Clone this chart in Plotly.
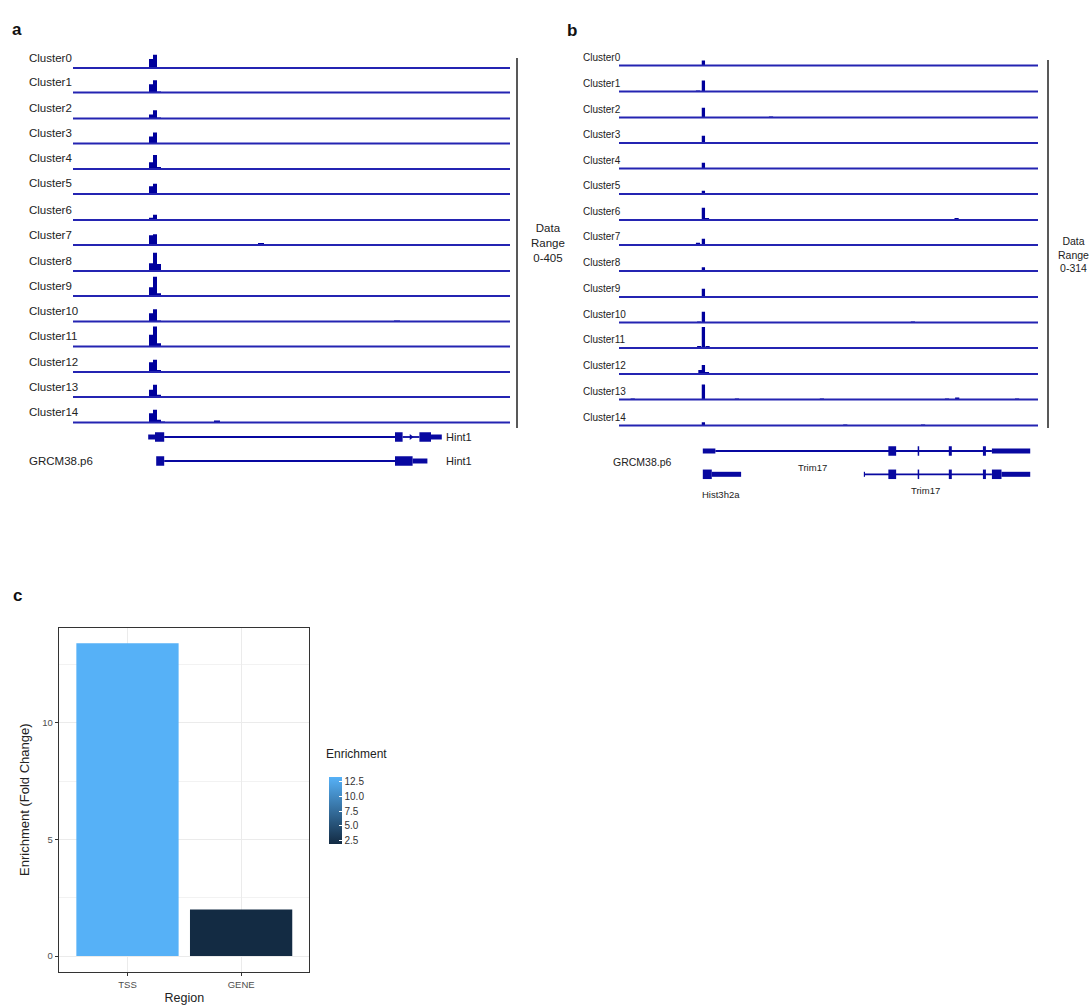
import plotly.graph_objects as go

FIG_W, FIG_H = 1091, 1005


def px_x(p):
    return p / FIG_W


def px_y(p):
    return 1 - p / FIG_H


CLUSTERS = [f"Cluster{i}" for i in range(15)]

# ---------------- panel a : Hint1 locus (positions in kb from region start) ----------------
A_REGION_KB = 10.925
A_DATA_MAX = 405
A_PEAK_BINS_KB = [1.95, 2.05, 2.15, 2.25]
A_PEAK_VALUES = [
    [182, 270, 20, 0],
    [168, 249, 14, 0],
    [81, 168, 10, 0],
    [142, 223, 0, 0],
    [136, 284, 26, 0],
    [156, 209, 10, 0],
    [47, 107, 6, 0],
    [196, 217, 0, 0],
    [156, 371, 142, 0],
    [176, 391, 55, 0],
    [168, 249, 10, 0],
    [237, 405, 67, 0],
    [196, 249, 34, 0],
    [148, 249, 47, 12],
    [188, 257, 55, 14],
]
A_SMALL_PEAKS_KB = [[], [], [], [], [], [3.8], [5.6, 7.8, 10.4], [4.1, 4.7, 8.5, 8.75, 9.05],
                    [], [3.35, 8.75], [8.1], [], [], [5.8, 8.25], [3.6]]
A_SMALL_PEAKS_VAL = [[], [], [], [], [], [15], [12, 14, 12], [16, 26, 12, 14, 12],
                     [], [12, 20], [8], [], [], [20, 15], [30]]

# gene models, panel a: row, start kb, end kb, feature kind
A_GENE_ROW = [1, 1, 1, 1, 1, 1, 1, 2, 2, 2, 2]
A_GENE_START = [2.28, 8.24, 1.88, 2.05, 8.05, 8.66, 8.95, 2.28, 2.08, 8.05, 8.49]
A_GENE_END = [8.05, 8.66, 2.05, 2.28, 8.24, 8.95, 9.22, 8.05, 2.28, 8.49, 8.86]
A_GENE_KIND = ["intron", "intron", "utr", "cds", "cds", "cds", "utr", "intron", "cds", "cds", "utr"]
A_STRAND_ARROW_KB = [8.45]
A_GENE_NAMES = ["Hint1", "Hint1"]

# ---------------- panel b : Trim17 / Hist3h2a locus ----------------
B_REGION_KB = 7.0
B_DATA_MAX = 314
B_PEAK_KB = 1.41
B_PEAK_VALUES = [75, 164, 145, 109, 85, 49, 184, 94, 55, 124, 160, 314, 135, 224, 49]
B_SMALL_PEAKS_KB = [[], [1.32], [2.54], [], [], [], [1.47, 1.63, 1.82, 2.59, 2.79, 4.06, 5.64],
                    [1.32, 2.07, 2.47, 4.06], [], [5.13], [1.34, 4.91], [1.34, 1.48, 2.42, 2.55],
                    [1.36, 1.47, 5.38, 5.87], [0.23, 1.97, 3.39, 5.48, 5.65, 6.65], [3.78, 5.08]]
B_SMALL_PEAKS_VAL = [[], [15], [14], [], [], [], [16, 10, 10, 15, 12, 10, 28],
                     [32, 14, 10, 10], [], [12], [14, 8], [22, 28, 10, 10],
                     [60, 25, 10, 12], [10, 8, 12, 10, 16, 8], [10, 8]]

B_GENE_ROW = [1, 1, 1, 1, 1, 1, 1, 2, 2, 2, 2, 2, 2, 2, 2, 2, 2]
B_GENE_START = [1.61, 1.40, 4.50, 4.99, 5.51, 6.08, 6.23, 1.40, 1.55, 4.10, 4.09, 4.50, 4.99, 5.51, 6.08, 6.23, 6.39]
B_GENE_END = [6.23, 1.61, 4.63, 5.015, 5.56, 6.13, 6.87, 1.55, 2.04, 6.23, 4.11, 4.63, 5.015, 5.56, 6.13, 6.39, 6.87]
B_GENE_KIND = ["intron", "utr", "cds", "cds", "cds", "cds", "utr", "cds", "utr", "intron", "utr",
               "cds", "cds", "cds", "cds", "cds", "utr"]
B_GENE_LABELS = ["Trim17", "Hist3h2a", "Trim17"]
B_GENE_LABEL_KB = [3.24, 1.71, 5.12]

# ---------------- panel c : enrichment bar chart ----------------
REGIONS = ["TSS", "GENE"]
ENRICHMENT = [13.4, 2.0]

# ---------------- styling / layout constants ----------------
A_X0, A_X1 = 73, 510
B_X0, B_X1 = 619, 1038
A_BASE_PX = [68, 92.5, 118.5, 143.5, 169, 194, 220, 245, 271, 296, 321.5, 346.5, 372, 397, 422.5]
B_BASE_PX = [65.5, 91.5, 117.5, 143, 168.5, 194, 220, 245, 271, 297, 322.5, 348, 374, 399.5, 425.5]
A_TRACK_PX = 20
B_TRACK_PX = 21
LINE_COL = "#2424b2"
BAR_COL = "#00009c"
GENE_COL = "#0808a0"
KIND_WIDTH = {"intron": 1.8, "utr": 5, "cds": 9.5}
LABEL_FONT = "Liberation Sans, Arial, sans-serif"

fig = go.Figure()
layout = {}
annotations = []
shapes = []


def yname(n):
    return "y" if n == 1 else f"y{n}"


def ykey(n):
    return "yaxis" if n == 1 else f"yaxis{n}"


def add_tracks(first_axis, xref, base_px, track_px, data_max, region_kb, peak_x, peak_w, peak_vals,
               small_x, small_v, small_w):
    for i in range(15):
        n = first_axis + i
        pad = 1.6
        units_per_px = data_max / track_px
        layout[ykey(n)] = dict(
            domain=[px_y(base_px[i] + pad), px_y(base_px[i] - track_px - 1)],
            range=[-pad * units_per_px, (track_px + 1) * units_per_px],
            anchor=xref, visible=False, fixedrange=True,
        )
        # baseline
        fig.add_trace(go.Scatter(x=[0, region_kb], y=[0, 0], mode="lines",
                                 line=dict(color=LINE_COL, width=2), xaxis=xref, yaxis=yname(n),
                                 showlegend=False, hoverinfo="skip"))
        xs = list(peak_x[i]) + list(small_x[i])
        ys = list(peak_vals[i]) + list(small_v[i])
        ws = [peak_w] * len(peak_x[i]) + [small_w] * len(small_x[i])
        fig.add_trace(go.Bar(x=xs, y=ys, width=ws, marker=dict(color=BAR_COL, line=dict(width=0)),
                             xaxis=xref, yaxis=yname(n), showlegend=False, name=CLUSTERS[i]))


# panel a tracks: axes y1..y15, x
add_tracks(1, "x", A_BASE_PX, A_TRACK_PX, A_DATA_MAX, A_REGION_KB,
           [A_PEAK_BINS_KB] * 15, 0.1, A_PEAK_VALUES, A_SMALL_PEAKS_KB, A_SMALL_PEAKS_VAL, 0.15)
# panel b tracks: axes y17..y31, x2
add_tracks(17, "x2", B_BASE_PX, B_TRACK_PX, B_DATA_MAX, B_REGION_KB,
           [[B_PEAK_KB]] * 15, 0.055, [[v] for v in B_PEAK_VALUES], B_SMALL_PEAKS_KB, B_SMALL_PEAKS_VAL, 0.07)

layout["xaxis"] = dict(domain=[px_x(A_X0), px_x(A_X1)], range=[0, A_REGION_KB], anchor="y",
                       visible=False, fixedrange=True)
layout["xaxis2"] = dict(domain=[px_x(B_X0), px_x(B_X1)], range=[0, B_REGION_KB], anchor="y17",
                        visible=False, fixedrange=True)


def add_genes(axis_n, xref, rows, starts, ends, kinds):
    order = sorted(range(len(rows)), key=lambda k: 0 if kinds[k] == "intron" else 1)
    for k in order:
        fig.add_trace(go.Scatter(x=[starts[k], ends[k]], y=[rows[k], rows[k]], mode="lines",
                                 line=dict(color=GENE_COL, width=KIND_WIDTH[kinds[k]]),
                                 xaxis=xref, yaxis=yname(axis_n), showlegend=False, hoverinfo="skip"))


# gene track a (y16): rows at 437 px and 461 px
layout[ykey(16)] = dict(domain=[px_y(476), px_y(428)], range=[2.625, 0.625], anchor="x",
                        visible=False, fixedrange=True)
add_genes(16, "x", A_GENE_ROW, A_GENE_START, A_GENE_END, A_GENE_KIND)
fig.add_trace(go.Scatter(x=A_STRAND_ARROW_KB, y=[1], mode="markers",
                         marker=dict(symbol="triangle-right", size=5, color=GENE_COL),
                         xaxis="x", yaxis="y16", showlegend=False, hoverinfo="skip"))

# gene track b (y32): rows at 451 px and 474.3 px
layout[ykey(32)] = dict(domain=[px_y(485), px_y(440)], range=[2.459, 0.528], anchor="x2",
                        visible=False, fixedrange=True)
add_genes(32, "x2", B_GENE_ROW, B_GENE_START, B_GENE_END, B_GENE_KIND)

# ---------------- panel c ----------------
fig.add_trace(go.Bar(
    x=REGIONS, y=ENRICHMENT, width=0.9, xaxis="x3", yaxis="y33", showlegend=False,
    marker=dict(color=ENRICHMENT, colorscale=[[0, "#132B43"], [1, "#56B1F7"]],
                cmin=min(ENRICHMENT), cmax=max(ENRICHMENT), line=dict(width=0),
                showscale=True,
                colorbar=dict(x=px_x(329), xanchor="left", xpad=0, y=px_y(810), yanchor="middle",
                              ypad=0, len=67, lenmode="pixels", thickness=12.5, thicknessmode="pixels",
                              outlinewidth=0, tickvals=[2.5, 5, 7.5, 10, 12.5],
                              ticktext=["2.5", "5.0", "7.5", "10.0", "12.5"],
                              ticks="inside", tickcolor="white", ticklen=3, tickwidth=1,
                              tickfont=dict(size=10, color="#333333", family=LABEL_FONT))),
))
layout["xaxis3"] = dict(
    domain=[px_x(59.3), px_x(309.3)], anchor="y33", type="category", categoryorder="array",
    categoryarray=REGIONS, range=[-0.6, 1.6], showgrid=True, gridcolor="#ebebeb", gridwidth=1.1,
    showline=True, mirror=True, linecolor="#333333", linewidth=1.1, ticks="outside", ticklen=3.5,
    tickcolor="#333333", tickwidth=1.1, tickfont=dict(size=9.5, color="#4d4d4d", family=LABEL_FONT),
    title=dict(text="Region", font=dict(size=12.5, color="#222222", family=LABEL_FONT), standoff=4),
    fixedrange=True, zeroline=False,
)
layout["yaxis33"] = dict(
    domain=[px_y(971.7), px_y(627.7)], anchor="x3", range=[-0.67, 14.07],
    tickvals=[0, 5, 10], showgrid=True, gridcolor="#ebebeb", gridwidth=1.1,
    minor=dict(tickvals=[2.5, 7.5, 12.5], showgrid=True, gridcolor="#f2f2f2", gridwidth=0.6),
    showline=True, mirror=True, linecolor="#333333", linewidth=1.1, ticks="outside", ticklen=3.5,
    tickcolor="#333333", tickwidth=1.1, tickfont=dict(size=9.5, color="#4d4d4d", family=LABEL_FONT),
    title=dict(text="Enrichment (Fold Change)", font=dict(size=13, color="#222222", family=LABEL_FONT),
               standoff=9),
    zeroline=False, fixedrange=True,
)

# ---------------- text annotations ----------------
for i, name in enumerate(CLUSTERS):
    annotations.append(dict(text=name, x=px_x(27), y=px_y(A_BASE_PX[i] - 10.5), xref="paper", yref="paper",
                            xanchor="left", yanchor="middle", showarrow=False,
                            font=dict(size=11.5, color="#222222", family=LABEL_FONT)))
    annotations.append(dict(text=name, x=px_x(581), y=px_y(B_BASE_PX[i] - 8.3), xref="paper", yref="paper",
                            xanchor="left", yanchor="middle", showarrow=False,
                            font=dict(size=10, color="#222222", family=LABEL_FONT)))

annotations += [
    dict(text="Data<br>Range<br>0-405", x=px_x(548), y=px_y(220), xref="paper", yref="paper",
         showarrow=False, align="center", font=dict(size=11.5, color="#222222", family=LABEL_FONT)),
    dict(text="Data<br>Range<br>0-314", x=px_x(1073), y=px_y(234), xref="paper", yref="paper",
         showarrow=False, align="center", xanchor="center", borderpad=0,
         font=dict(size=10.5, color="#222222", family=LABEL_FONT)),
    dict(text="GRCM38.p6", x=px_x(27), y=px_y(461), xref="paper", yref="paper", xanchor="left",
         showarrow=False, font=dict(size=11.5, color="#222222", family=LABEL_FONT)),
    dict(text="GRCM38.p6", x=px_x(611), y=px_y(462), xref="paper", yref="paper", xanchor="left",
         showarrow=False, font=dict(size=10.5, color="#222222", family=LABEL_FONT)),
    dict(text="<b>a</b>", x=px_x(10), y=px_y(18), xref="paper", yref="paper", xanchor="left",
         showarrow=False, font=dict(size=17, color="#111111", family=LABEL_FONT)),
    dict(text="<b>b</b>", x=px_x(565), y=px_y(19), xref="paper", yref="paper", xanchor="left",
         showarrow=False, font=dict(size=17, color="#111111", family=LABEL_FONT)),
    dict(text="<b>c</b>", x=px_x(11), y=px_y(595), xref="paper", yref="paper", xanchor="left",
         showarrow=False, font=dict(size=17, color="#111111", family=LABEL_FONT)),
    dict(text="Enrichment", x=px_x(324), y=px_y(763), xref="paper", yref="paper", xanchor="left",
         showarrow=False, font=dict(size=12, color="#222222", family=LABEL_FONT)),
]
for k, name in enumerate(A_GENE_NAMES):
    annotations.append(dict(text=name, x=9.27, y=px_y(437 + 24 * k), xref="x", yref="paper",
                            xanchor="left", showarrow=False,
                            font=dict(size=11, color="#222222", family=LABEL_FONT)))
B_LABEL_Y_PX = [468, 494, 490]
for name, xk, ypx in zip(B_GENE_LABELS, B_GENE_LABEL_KB, B_LABEL_Y_PX):
    annotations.append(dict(text=name, x=xk, y=px_y(ypx), xref="x2", yref="paper", showarrow=False,
                            font=dict(size=9.5, color="#222222", family=LABEL_FONT)))

shapes += [
    dict(type="line", xref="paper", yref="paper", x0=px_x(517), x1=px_x(517), y0=px_y(58), y1=px_y(428),
         line=dict(color="#222222", width=1.5)),
    dict(type="line", xref="paper", yref="paper", x0=px_x(1048), x1=px_x(1048), y0=px_y(60), y1=px_y(428),
         line=dict(color="#222222", width=1.5)),
]

fig.update_layout(
    width=FIG_W, height=FIG_H, margin=dict(l=0, r=0, t=0, b=0),
    paper_bgcolor="white", plot_bgcolor="white", barmode="overlay",
    annotations=annotations, shapes=shapes, showlegend=False,
    font=dict(family=LABEL_FONT),
    **layout,
)

fig.write_html("out.html")
